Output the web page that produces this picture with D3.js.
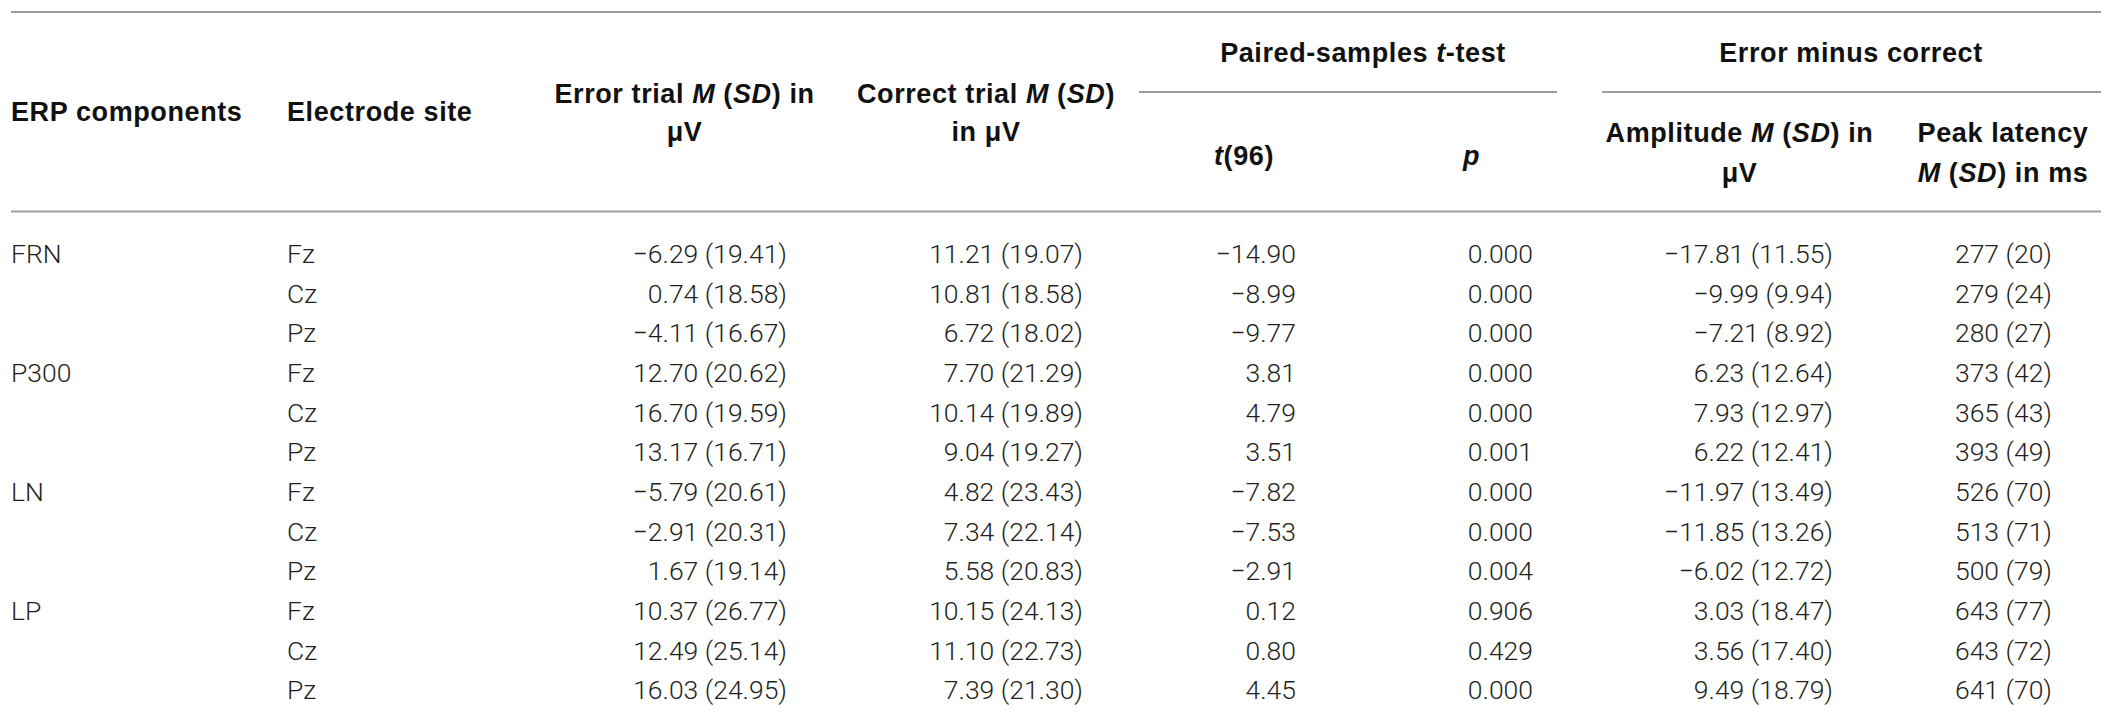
<!DOCTYPE html>
<html>
<head>
<meta charset="utf-8">
<script src="https://cdn.jsdelivr.net/npm/d3@7"></script>
<style>
  body { margin: 0; background: #fff; }
  .head { font-family: "Liberation Sans", Arial, sans-serif; font-weight: bold; font-size: 27px; fill: #111; letter-spacing: 0.6px; }
  .cell { font-family: Roboto, sans-serif; font-weight: 300; font-size: 26.5px; fill: #231f20; }
</style>
</head>
<body>
<svg id="table"></svg>
<script>
// Datos de la tabla
const components = ["FRN", "FRN", "FRN", "P300", "P300", "P300", "LN", "LN", "LN", "LP", "LP", "LP"];
const sites = ["Fz", "Cz", "Pz", "Fz", "Cz", "Pz", "Fz", "Cz", "Pz", "Fz", "Cz", "Pz"];
const errorM = [-6.29, 0.74, -4.11, 12.70, 16.70, 13.17, -5.79, -2.91, 1.67, 10.37, 12.49, 16.03];
const errorSD = [19.41, 18.58, 16.67, 20.62, 19.59, 16.71, 20.61, 20.31, 19.14, 26.77, 25.14, 24.95];
const correctM = [11.21, 10.81, 6.72, 7.70, 10.14, 9.04, 4.82, 7.34, 5.58, 10.15, 11.10, 7.39];
const correctSD = [19.07, 18.58, 18.02, 21.29, 19.89, 19.27, 23.43, 22.14, 20.83, 24.13, 22.73, 21.30];
const tValues = [-14.90, -8.99, -9.77, 3.81, 4.79, 3.51, -7.82, -7.53, -2.91, 0.12, 0.80, 4.45];
const pValues = [0.000, 0.000, 0.000, 0.000, 0.000, 0.001, 0.000, 0.000, 0.004, 0.906, 0.429, 0.000];
const ampM = [-17.81, -9.99, -7.21, 6.23, 7.93, 6.22, -11.97, -11.85, -6.02, 3.03, 3.56, 9.49];
const ampSD = [11.55, 9.94, 8.92, 12.64, 12.97, 12.41, 13.49, 13.26, 12.72, 18.47, 17.40, 18.79];
const latM = [277, 279, 280, 373, 365, 393, 526, 513, 500, 643, 643, 641];
const latSD = [20, 24, 27, 42, 43, 49, 70, 71, 79, 77, 72, 70];

const width = 2125;
const height = 715;

const f2 = d3.format(".2f");
const f3 = d3.format(".3f");
const f0 = d3.format("d");

const svg = d3.select("#table")
    .attr("width", width)
    .attr("height", height);

// Columnas: posición y alineación del cuerpo
const columns = [
    { x: 11, anchor: "start", text: i => (i % 3 === 0 ? components[i] : "") },
    { x: 287, anchor: "start", text: i => sites[i] },
    { x: 787, anchor: "end", text: i => `${f2(errorM[i])} (${f2(errorSD[i])})` },
    { x: 1083, anchor: "end", text: i => `${f2(correctM[i])} (${f2(correctSD[i])})` },
    { x: 1296, anchor: "end", text: i => f2(tValues[i]) },
    { x: 1533, anchor: "end", text: i => f3(pValues[i]) },
    { x: 1833, anchor: "end", text: i => `${f2(ampM[i])} (${f2(ampSD[i])})` },
    { x: 2052, anchor: "end", text: i => `${f0(latM[i])} (${f0(latSD[i])})` }
];

// Encabezados: cada línea es una lista de segmentos [texto, cursiva]
const headers = [
    { x: 11, anchor: "start", y: [121], lines: [[["ERP components", false]]] },
    { x: 287, anchor: "start", y: [121], lines: [[["Electrode site", false]]] },
    { x: 684.5, anchor: "middle", y: [103, 141], lines: [
        [["Error trial ", false], ["M", true], [" (", false], ["SD", true], [") in", false]],
        [["\u03bcV", false]]] },
    { x: 986, anchor: "middle", y: [103, 141], lines: [
        [["Correct trial ", false], ["M", true], [" (", false], ["SD", true], [")", false]],
        [["in \u03bcV", false]]] },
    { x: 1363, anchor: "middle", y: [62], lines: [[["Paired-samples ", false], ["t", true], ["-test", false]]] },
    { x: 1851, anchor: "middle", y: [62], lines: [[["Error minus correct", false]]] },
    { x: 1214, anchor: "start", y: [165], lines: [[["t", true], ["(96)", false]]] },
    { x: 1463, anchor: "start", y: [165], lines: [[["p", true]]] },
    { x: 1739.5, anchor: "middle", y: [142, 182], lines: [
        [["Amplitude ", false], ["M", true], [" (", false], ["SD", true], [") in", false]],
        [["\u03bcV", false]]] },
    { x: 2003, anchor: "middle", y: [142, 182], lines: [
        [["Peak latency", false]],
        [["M", true], [" (", false], ["SD", true], [") in ms", false]]] }
];

// Reglas horizontales
const rules = [
    { x1: 11, x2: 2101, y: 12 },
    { x1: 1139, x2: 1557, y: 92 },
    { x1: 1602, x2: 2101, y: 92 },
    { x1: 11, x2: 2101, y: 211.5 }
];

svg.append("g").selectAll("line")
    .data(rules)
    .enter().append("line")
    .attr("x1", d => d.x1)
    .attr("x2", d => d.x2)
    .attr("y1", d => d.y)
    .attr("y2", d => d.y)
    .attr("stroke", "#9d9d9d")
    .attr("stroke-width", 2);

const head = svg.append("g").attr("class", "head");

headers.forEach(h => {
    h.lines.forEach((line, li) => {
        const t = head.append("text")
            .attr("x", h.x)
            .attr("y", h.y[li])
            .attr("text-anchor", h.anchor);
        t.selectAll("tspan")
            .data(line)
            .enter().append("tspan")
            .attr("font-style", d => (d[1] ? "italic" : "normal"))
            .text(d => d[0]);
    });
});

// Filas del cuerpo
const y = d3.scalePoint()
    .domain(d3.range(components.length))
    .range([263, 699.3]);

const body = svg.append("g").attr("class", "cell");

columns.forEach(col => {
    body.append("g").selectAll("text")
        .data(d3.range(components.length))
        .enter().append("text")
        .attr("x", col.x)
        .attr("y", d => y(d))
        .attr("text-anchor", col.anchor)
        .text(d => col.text(d));
});
</script>
</body>
</html>
